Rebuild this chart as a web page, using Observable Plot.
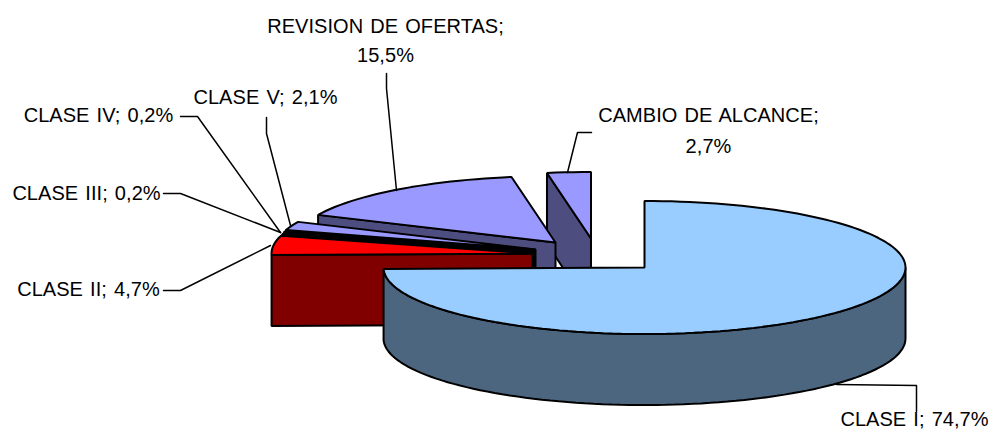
<!DOCTYPE html>
<html><head><meta charset="utf-8">
<script src="https://cdn.jsdelivr.net/npm/d3@7"></script>
<script src="https://cdn.jsdelivr.net/npm/@observablehq/plot@0.6"></script>
<style>html,body{margin:0;padding:0;background:#fff}</style>
</head><body><div id="chart"></div>
<script>
// Data (pie order, clockwise from 12 o'clock)
const categories = ["CLASE I","CLASE II","CLASE III","CLASE IV","CLASE V","REVISION DE OFERTAS","CAMBIO DE ALCANCE"];
const shares = [74.7,4.7,0.2,0.2,2.1,15.5,2.7];
const shareLabels = ["74,7%","4,7%","0,2%","0,2%","2,1%","15,5%","2,7%"];
const topColors = ["#99ccff","#ff0000","#333300","#1a1a00","#9999ff","#9999ff","#9999ff"];
const sideColors = ["#4d6680","#800000","#1a1a00","#0d0d00","#4d4d80","#4d4d80","#4d4d80"];

// Layout, in the picture's own units
const radiusX = 261, radiusY = 66.5, depth = 71;
const centerX = [644,532,533,534,535,555,590.5];
const centerY = [267,253,252,250.5,249,242,238];
const labelX = [914,88,86,98,265,385,708];
const labelY = [419,289,193,115,97,[26,55],[115,146]];
const leaders = [
  [[836,384],[916,385],[916,411]],
  [[163,290],[180,290],[270,245]],
  [[163,193],[180,193],[280,232]],
  [[180,116],[197,116],[280,232]],
  [[266,117],[266,133],[290,225]],
  [[386,73],[386,88],[396,190]],
  [[591,132],[577,132],[567,172]]
];

const total = d3.sum(shares);
const cum = d3.cumsum(shares);
const startA = i => (i ? cum[i-1] : 0) / total * 360;
const endA = i => cum[i] / total * 360;
const pt = (i, deg, dy = 0) => {
  const t = deg * Math.PI / 180;
  return {x: centerX[i] + radiusX * Math.sin(t), y: centerY[i] - radiusY * Math.cos(t) + dy};
};
const arc = (i, a, b, dy = 0) => {
  const n = Math.max(1, Math.ceil((b - a) / 2));
  return d3.range(n + 1).map(k => pt(i, a + (b - a) * k / n, dy));
};

const poly = (points, fill) => Plot.line(points, {x: "x", y: "y", fill, stroke: "#000", strokeWidth: 2, curve: "linear-closed", strokeLinejoin: "miter"});

const marks = [];
// painter's order: back to front
for (const i of [6,5,4,3,2,1,0]) {
  const a = startA(i), b = endA(i);
  const c = {x: centerX[i], y: centerY[i]};
  if (i !== 0) {
    const p = pt(i, a);
    marks.push(poly([c, p, {x: p.x, y: p.y + depth}, {x: c.x, y: c.y + depth}], sideColors[i]));
  } else {
    const wall = arc(i, 90, b);
    marks.push(poly([...wall, ...arc(i, 90, b, depth).reverse()], sideColors[i]));
  }
  marks.push(poly([c, ...arc(i, a, b)], topColors[i]));
}
// leaders
leaders.forEach(l => marks.push(Plot.line(l.map(([x, y]) => ({x, y})), {x: "x", y: "y", stroke: "#000", strokeWidth: 1.5})));
// labels
const labelRows = [];
categories.forEach((c, i) => {
  if (Array.isArray(labelY[i])) {
    labelRows.push({x: labelX[i], y: labelY[i][0], t: c + ";"});
    labelRows.push({x: labelX[i], y: labelY[i][1], t: shareLabels[i]});
  } else {
    labelRows.push({x: labelX[i], y: labelY[i], t: `${c}; ${shareLabels[i]}`});
  }
});
marks.push(Plot.text(labelRows, {x: "x", y: "y", text: "t", fill: "#000", stroke: "none", fontSize: 20, fontFamily: "Liberation Sans", textAnchor: "middle", lineAnchor: "middle"}));

const chart = Plot.plot({
  width: 993, height: 432, margin: 0,
  x: {domain: [0, 993], axis: null},
  y: {domain: [432, 0], axis: null},
  style: {background: "#fff", letterSpacing: "0.05px", wordSpacing: "1.5px"},
  marks
});
document.getElementById("chart").append(chart);
</script>
</body></html>
